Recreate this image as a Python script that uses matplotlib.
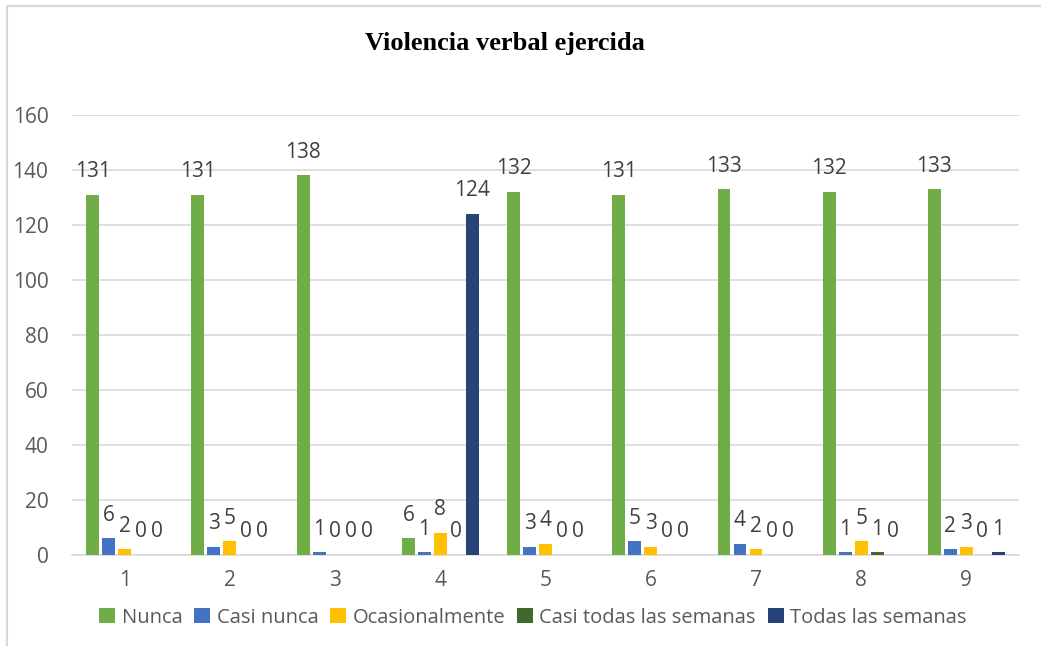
import matplotlib
matplotlib.use("Agg")
import matplotlib.pyplot as plt
import numpy as np
from matplotlib.patches import Rectangle

categories = ["1", "2", "3", "4", "5", "6", "7", "8", "9"]
series_names = ["Nunca", "Casi nunca", "Ocasionalmente", "Casi todas las semanas", "Todas las semanas"]
nunca = [131, 131, 138, 6, 132, 131, 133, 132, 133]
casi_nunca = [6, 3, 1, 1, 3, 5, 4, 1, 2]
ocasionalmente = [2, 5, 0, 8, 4, 3, 2, 5, 3]
casi_todas = [0, 0, 0, 0, 0, 0, 0, 1, 0]
todas = [0, 0, 0, 124, 0, 0, 0, 0, 1]
colors = ["#70AD47", "#4472C4", "#FFC000", "#43682B", "#264478"]
yticks = [0, 20, 40, 60, 80, 100, 120, 140, 160]

series = [nunca, casi_nunca, ocasionalmente, casi_todas, todas]

plt.rcParams['font.family'] = ['Open Sans', 'DejaVu Sans']

fig = plt.figure(figsize=(10.41, 6.46), dpi=100)
ax = fig.add_axes([0.0692, 0.1409, 0.9097, 0.6811])

x = np.arange(len(categories))
pitch = 0.152
width = 0.122
for i, (name, vals, c) in enumerate(zip(series_names, series, colors)):
    pos = x + (i - 2) * pitch
    ax.bar(pos, vals, width=width, color=c, label=name, zorder=3)
    for px, v in zip(pos, vals):
        ax.annotate(str(v), (px, v), xytext=(0, 9), textcoords="offset points",
                    ha="center", va="bottom", fontsize=15, color="#404040", zorder=4)

ax.set_xlim(-0.5, len(categories) - 0.5)
ax.set_ylim(0, 160)
ax.set_yticks(yticks)
ax.set_xticks(x)
ax.set_xticklabels(categories)
ax.tick_params(axis="both", length=0, labelsize=15, colors="#595959")
ax.tick_params(axis="y", pad=17)
ax.tick_params(axis="x", pad=11)
ax.grid(axis="y", color="#D9D9D9", linewidth=1.2, zorder=0)
for s in ["top", "right", "left"]:
    ax.spines[s].set_visible(False)
ax.spines["bottom"].set_color("#D9D9D9")
ax.spines["bottom"].set_linewidth(1.2)

fig.text(0.485, 0.932, "Violencia verbal ejercida", ha="center", va="center",
         fontsize=19, fontweight="bold", family="Liberation Serif", color="black")

leg = fig.legend(loc="center", bbox_to_anchor=(0.512, 0.044), ncol=5, frameon=False,
                 fontsize=14.5, handlelength=0.8, handleheight=0.8, handletextpad=0.3,
                 columnspacing=0.6, labelcolor="#595959")

fig.add_artist(Rectangle((7 / 1041, -0.1), 1.2, 1.1 - 6 / 646, transform=fig.transFigure,
                         fill=False, edgecolor="#D9D9D9", linewidth=1.5))

fig.savefig("out.png", dpi=100)
